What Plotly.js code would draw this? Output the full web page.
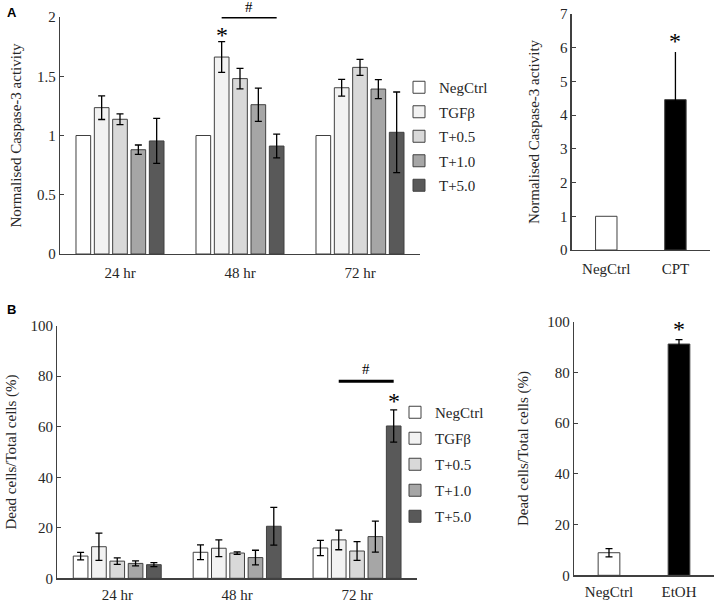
<!DOCTYPE html>
<html>
<head>
<meta charset="utf-8">
<script src="https://cdn.plot.ly/plotly-3.0.1.min.js"></script>
<style>html,body{margin:0;padding:0;background:#fff;}#chart{width:717px;height:603px;}</style>
</head>
<body>
<div id="chart"></div>
<script>
// ---------- DATA ----------
const timepoints = ["24 hr", "48 hr", "72 hr"];
const groups = ["NegCtrl", "TGFβ", "T+0.5", "T+1.0", "T+5.0"];
const groupColors = ["#ffffff", "#f2f2f2", "#d9d9d9", "#a6a6a6", "#595959"];

// Panel A: normalised caspase-3 activity (one array per group, across timepoints)
const caspNegCtrl = [1, 1, 1];
const caspTGFb    = [1.235, 1.662, 1.403];
const caspT05     = [1.137, 1.48, 1.575];
const caspT10     = [0.88, 1.26, 1.392];
const caspT50     = [0.954, 0.911, 1.027];
const caspNegCtrlErr = [0, 0, 0];
const caspTGFbErr    = [0.10, 0.13, 0.07];
const caspT05Err     = [0.045, 0.087, 0.068];
const caspT10Err     = [0.04, 0.14, 0.08];
const caspT50Err     = [0.19, 0.10, 0.34];

// Panel A right: positive control
const caspCtrlCats = ["NegCtrl", "CPT"];
const caspCtrlVals = [1, 4.46];
const caspCtrlErr  = [0, 1.41];

// Panel B: dead cells / total cells (%)
const deadNegCtrl = [8.8, 10.3, 12.0];
const deadTGFb    = [12.5, 11.9, 15.2];
const deadT05     = [6.8, 10.0, 10.8];
const deadT10     = [5.9, 8.2, 16.5];
const deadT50     = [5.4, 20.6, 60.3];
const deadNegCtrlErr = [1.5, 2.9, 3.0];
const deadTGFbErr    = [5.4, 3.3, 3.9];
const deadT05Err     = [1.3, 0.5, 3.7];
const deadT10Err     = [1.0, 2.9, 6.1];
const deadT50Err     = [0.8, 7.5, 6.4];

// Panel B right: positive control
const deadCtrlCats = ["NegCtrl", "EtOH"];
const deadCtrlVals = [8.9, 91.2];
const deadCtrlErr  = [1.6, 1.7];

// Significance marks
const caspStar = {time: 1, group: 1, y: 1.85};
const caspHash = {time: 1, from: 1, to: 4, y: 2.0};
const caspCtrlStar = {cat: 1, y: 6.2};
const deadStar = {time: 2, group: 4, y: 70};
const deadHash = {time: 2, from: 1, to: 4, y: 78};
const deadCtrlStar = {cat: 1, y: 97.1};

// ---------- STYLE ----------
const FONT = "Liberation Serif, Times New Roman, serif";
const TXT = "#262626";
const AX = "#404040";
const BARGAP = 0.236;
const GROUPGAP = 0.2;

const caspVals = [caspNegCtrl, caspTGFb, caspT05, caspT10, caspT50];
const caspErrs = [caspNegCtrlErr, caspTGFbErr, caspT05Err, caspT10Err, caspT50Err];
const deadVals = [deadNegCtrl, deadTGFb, deadT05, deadT10, deadT50];
const deadErrs = [deadNegCtrlErr, deadTGFbErr, deadT05Err, deadT10Err, deadT50Err];

function errCfg(arr, visible) {
  return {type: "data", array: arr, visible: visible !== false, color: "#000", thickness: 1.3, width: 3.5};
}

const traces = [];
groups.forEach((g, i) => {
  traces.push({
    type: "bar", x: timepoints, y: caspVals[i], name: g,
    xaxis: "x", yaxis: "y", legend: "legend", legendgroup: "a" + i,
    marker: {color: groupColors[i], line: {color: AX, width: 1}},
    error_y: errCfg(caspErrs[i], i !== 0)
  });
});
groups.forEach((g, i) => {
  traces.push({
    type: "bar", x: timepoints, y: deadVals[i], name: g,
    xaxis: "x3", yaxis: "y3", legend: "legend2", legendgroup: "b" + i,
    marker: {color: groupColors[i], line: {color: AX, width: 1}},
    error_y: errCfg(deadErrs[i])
  });
});
traces.push({
  type: "bar", x: caspCtrlCats, y: caspCtrlVals, xaxis: "x2", yaxis: "y2",
  width: 0.31, showlegend: false,
  marker: {color: ["#ffffff", "#000000"], line: {color: AX, width: 1}},
  error_y: {type: "data", array: caspCtrlErr, color: "#000", thickness: 1.3, width: 0}
});
traces.push({
  type: "bar", x: deadCtrlCats, y: deadCtrlVals, xaxis: "x4", yaxis: "y4",
  width: 0.31, showlegend: false,
  marker: {color: ["#ffffff", "#000000"], line: {color: AX, width: 1}},
  error_y: {type: "data", array: deadCtrlErr, color: "#000", thickness: 1.3, width: 3.5}
});

// slot position of a bar within a grouped category
function slotX(t, g) {
  const slot = (1 - BARGAP) / groups.length;
  return t + (g - (groups.length - 1) / 2) * slot;
}

const W = 717, H = 603;
function xd(a, b) { return [a / W, b / W]; }
function yd(top, bottom) { return [1 - bottom / H, 1 - top / H]; }

function xAxis(domain, anchor, cats, standoff) {
  return {
    domain: domain, anchor: anchor, type: "category", range: [-0.5, cats - 0.5],
    showline: true, linecolor: AX, linewidth: 1.3, ticks: "", showgrid: false, zeroline: false,
    tickfont: {family: FONT, size: 15, color: TXT}, ticklabelstandoff: standoff, fixedrange: true
  };
}
function yAxis(domain, anchor, range, dtick, title, standoff) {
  return {
    domain: domain, anchor: anchor, range: range, dtick: dtick,
    showline: true, linecolor: AX, linewidth: 1.3, ticks: "inside", ticklen: 4, tickcolor: AX,
    showgrid: false, zeroline: false,
    tickfont: {family: FONT, size: 15, color: TXT},
    title: {text: title, font: {family: FONT, size: 15, color: TXT}, standoff: standoff}
  };
}

const annFont = {family: FONT, color: "#000"};
const annotations = [
  {xref: "paper", yref: "paper", x: 5 / W, y: 1 - 3 / H, xanchor: "left", yanchor: "top", showarrow: false,
   text: "<b>A</b>", font: {family: "Liberation Sans, Arial, sans-serif", size: 13, color: "#000"}},
  {xref: "paper", yref: "paper", x: 5 / W, y: 1 - 300 / H, xanchor: "left", yanchor: "top", showarrow: false,
   text: "<b>B</b>", font: {family: "Liberation Sans, Arial, sans-serif", size: 13, color: "#000"}},
  {xref: "x", yref: "y", x: slotX(caspStar.time, caspStar.group), y: caspStar.y, text: "*", showarrow: false,
   font: Object.assign({size: 24}, annFont)},
  {xref: "x", yref: "y", x: (slotX(caspHash.time, caspHash.from) + slotX(caspHash.time, caspHash.to)) / 2,
   y: caspHash.y, yanchor: "bottom", yshift: 0, text: "#", showarrow: false, font: Object.assign({size: 15}, annFont)},
  {xref: "x2", yref: "y2", x: caspCtrlStar.cat, y: caspCtrlStar.y, text: "*", showarrow: false,
   font: Object.assign({size: 24}, annFont)},
  {xref: "x3", yref: "y3", x: slotX(deadStar.time, deadStar.group), y: deadStar.y, text: "*", showarrow: false,
   font: Object.assign({size: 24}, annFont)},
  {xref: "x3", yref: "y3", x: (slotX(deadHash.time, deadHash.from) + slotX(deadHash.time, deadHash.to)) / 2,
   y: deadHash.y, yanchor: "bottom", yshift: 2, text: "#", showarrow: false, font: Object.assign({size: 15}, annFont)},
  {xref: "x4", yref: "y4", x: deadCtrlStar.cat, y: deadCtrlStar.y, text: "*", showarrow: false,
   font: Object.assign({size: 24}, annFont)}
];

const shapes = [
  {type: "line", xref: "x", yref: "y", x0: slotX(caspHash.time, caspHash.from), x1: slotX(caspHash.time, caspHash.to),
   y0: caspHash.y, y1: caspHash.y, line: {color: "#000", width: 3}},
  {type: "line", xref: "x3", yref: "y3", x0: slotX(deadHash.time, deadHash.from), x1: slotX(deadHash.time, deadHash.to),
   y0: deadHash.y, y1: deadHash.y, line: {color: "#000", width: 3}}
];

function legendCfg(x, y, gap) {
  return {
    x: x, y: y, font: {family: FONT, size: 15, color: TXT}, bgcolor: "rgba(0,0,0,0)", borderwidth: 0,
    traceorder: "grouped", tracegroupgap: gap, xanchor: "left", yanchor: "top", itemclick: false
  };
}

const layout = {
  width: W, height: H, margin: {l: 0, r: 0, t: 0, b: 0},
  font: {family: FONT, size: 15, color: TXT},
  paper_bgcolor: "#fff", plot_bgcolor: "rgba(0,0,0,0)",
  barmode: "group", bargap: BARGAP, bargroupgap: GROUPGAP,
  showlegend: true,
  legend: legendCfg(399 / W, 1 - 71 / H, 2),
  legend2: legendCfg(395 / W, 1 - 396 / H, 3.5),
  xaxis: xAxis(xd(60, 420), "y", 3, 5),
  yaxis: yAxis(yd(17, 254), "x", [0, 2], 0.5, "Normalised Caspase-3 activity", 11),
  xaxis2: xAxis(xd(571.7, 710), "y2", 2, 5),
  yaxis2: yAxis(yd(14, 250), "x2", [0, 7], 1, "Normalised Caspase-3 activity", 16),
  xaxis3: xAxis(xd(57.3, 417), "y3", 3, 2),
  yaxis3: yAxis(yd(325.7, 578.3), "x3", [0, 100], 20, "Dead cells/Total cells (%)", 10),
  xaxis4: xAxis(xd(574, 714), "y4", 2, 2),
  yaxis4: yAxis(yd(321.7, 575.3), "x4", [0, 100], 20, "Dead cells/Total cells (%)", 15),
  annotations: annotations, shapes: shapes
};

Plotly.newPlot("chart", traces, layout, {displayModeBar: false, staticPlot: true});
</script>
</body>
</html>
